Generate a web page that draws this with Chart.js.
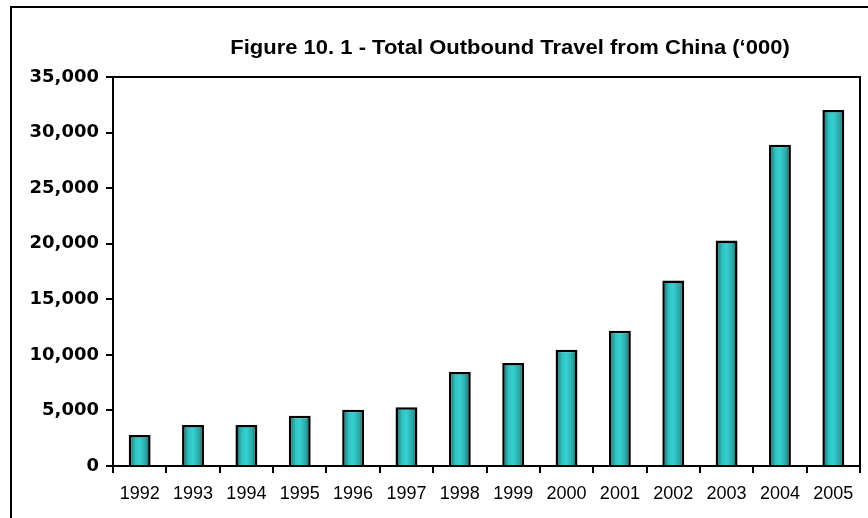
<!DOCTYPE html>
<html>
<head>
<meta charset="utf-8">
<script src="https://cdn.jsdelivr.net/npm/chart.js@4"></script>
<style>
    html, body { margin: 0; padding: 0; background: #fff; }
    #wrap { width: 868px; height: 518px; }
</style>
</head>
<body>
<div id="wrap"><canvas id="outboundChart" width="868" height="518"></canvas></div>
<script>
const years = ['1992', '1993', '1994', '1995', '1996', '1997', '1998', '1999', '2000', '2001', '2002', '2003', '2004', '2005'];
const travellers = [2790, 3690, 3690, 4510, 5050, 5290, 8450, 9260, 10460, 12180, 16690, 20300, 28900, 32030];
const yTickValues = [0, 5000, 10000, 15000, 20000, 25000, 30000, 35000];
const chartTitle = 'Figure 10. 1 - Total Outbound Travel from China (\u2018000)';

// cylinder-like shading across each bar
function barGradient(context) {
    const chart = context.chart;
    const xScale = chart.scales.x;
    if (!chart.chartArea || !xScale) return '#33cccc';
    const cx = xScale.getPixelForValue(context.dataIndex);
    const half = (chart.chartArea.width / years.length) * 0.41 / 2;
    const g = chart.ctx.createLinearGradient(cx - half, 0, cx + half, 0);
    g.addColorStop(0, '#1a6060');
    g.addColorStop(0.3, '#31c2c2');
    g.addColorStop(0.5, '#36d0d0');
    g.addColorStop(0.78, '#2aa6a6');
    g.addColorStop(1, '#155050');
    return g;
}

const frame = {
    id: 'frame',
    beforeDraw(chart) {
        const ctx = chart.ctx;
        ctx.save();
        ctx.strokeStyle = '#000';
        ctx.lineWidth = 2;
        ctx.strokeRect(11, 7, 900, 600);
        ctx.restore();
    },
    afterDraw(chart) {
        const ctx = chart.ctx;
        const a = chart.chartArea;
        ctx.save();
        ctx.strokeStyle = '#000';
        ctx.lineWidth = 2;
        ctx.beginPath();
        ctx.moveTo(a.left, a.top);
        ctx.lineTo(a.right, a.top);
        ctx.lineTo(a.right, a.bottom);
        ctx.stroke();
        ctx.font = 'bold 20px "Liberation Sans", Arial, sans-serif';
        ctx.fillStyle = '#000';
        ctx.textAlign = 'center';
        ctx.textBaseline = 'middle';
        ctx.translate(510, 48);
        ctx.scale(1.1, 1);
        ctx.fillText(chartTitle, 0, 0);
        ctx.restore();
    }
};

const ctx = document.getElementById('outboundChart').getContext('2d');
new Chart(ctx, {
    type: 'bar',
    data: {
        labels: years,
        datasets: [{
            data: travellers,
            backgroundColor: barGradient,
            borderColor: '#000',
            borderWidth: 2.5,
            categoryPercentage: 1,
            barPercentage: 0.41
        }]
    },
    options: {
        responsive: false,
        animation: false,
        layout: { padding: { top: 77, right: 8, left: 0, bottom: 0 } },
        plugins: {
            legend: { display: false },
            tooltip: { enabled: false }
        },
        scales: {
            x: {
                afterFit(scale) { scale.height = 52; },
                grid: {
                    offset: true,
                    drawOnChartArea: false,
                    color: '#000',
                    lineWidth: 2,
                    tickLength: 7
                },
                border: { color: '#000', width: 2 },
                ticks: {
                    color: '#000',
                    padding: 10,
                    maxRotation: 0,
                    font: { family: '"Liberation Sans", Arial, sans-serif', size: 18 }
                }
            },
            y: {
                min: 0,
                max: 35000,
                afterFit(scale) { scale.width = 113; },
                afterBuildTicks(scale) {
                    scale.ticks = yTickValues.map(v => ({ value: v }));
                },
                grid: {
                    drawOnChartArea: false,
                    color: '#000',
                    lineWidth: 2,
                    tickLength: 7
                },
                border: { color: '#000', width: 2 },
                ticks: {
                    color: '#000',
                    padding: 7,
                    font: { family: '"DejaVu Sans", sans-serif', size: 18, weight: 'bold' },
                    callback: v => v.toLocaleString('en-US')
                }
            }
        }
    },
    plugins: [frame]
});
</script>
</body>
</html>
